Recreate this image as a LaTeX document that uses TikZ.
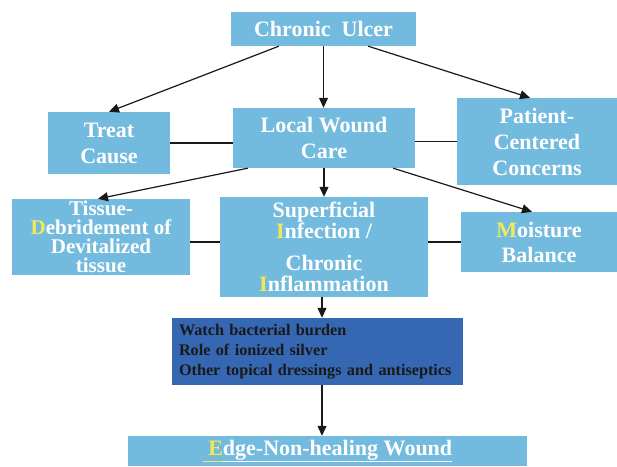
\documentclass[tikz,border=0pt]{standalone}
\usepackage{fontspec}
\setmainfont{Liberation Serif}[BoldFont={Liberation Serif Bold}]
\usepackage{tikz}
\usetikzlibrary{arrows.meta}

\definecolor{boxblue}{RGB}{115,187,222}
\definecolor{darkblue}{RGB}{53,103,178}
\definecolor{hiyellow}{RGB}{242,234,84}
\newcommand{\hlletter}[1]{\textcolor{hiyellow}{#1}}

\begin{document}
\begin{tikzpicture}[x=1pt, y=-1pt, >={Triangle[length=10pt, width=9pt]},
  box/.style={rectangle, fill=boxblue, text=white, align=center, inner sep=0pt,
    font=\bfseries\fontsize{22}{26}\selectfont},
  link/.style={->, line width=1.2pt, black!90},
  tie/.style={-, line width=1.2pt, black!90}]
  \useasboundingbox (0,0) rectangle (617,466);

  \node[box, minimum width=185, minimum height=34] (ulcer) at (323.5,29) {Chronic\hspace{0.5em}Ulcer};
  \node[box, minimum width=122, minimum height=62] (treat) at (109,143) {Treat\\Cause};
  \node[box, minimum width=182, minimum height=60] (wound) at (324,138) {Local Wound\\Care};
  \node[box, minimum width=160, minimum height=87] (patient) at (537,141.5) {Patient-\\Centered\\Concerns};
  \node[box, minimum width=178, minimum height=76, font=\bfseries\fontsize{21}{19}\selectfont] (tissue) at (101,237) {Tissue-\\\hlletter{D}ebridement of\\Devitalized\\tissue};
  \node[box, minimum width=208, minimum height=100, font=\bfseries\fontsize{22}{21}\selectfont] (infect) at (324,247) {Superficial\\\hlletter{I}nfection /\\[11pt]Chronic\\\hlletter{I}nflammation};
  \node[box, minimum width=156, minimum height=60, font=\bfseries\fontsize{22}{25}\selectfont] (moisture) at (539,242) {\hlletter{M}oisture\\Balance};
  \node[rectangle, fill=darkblue, minimum width=291, minimum height=67, inner sep=0pt, text width=283, align=left, text=black!90, font=\bfseries\fontsize{16.2}{20}\selectfont] (watch) at (317.5,351.5) {\hspace*{3pt}Watch bacterial burden\\\hspace*{3pt}Role of ionized silver\\\hspace*{3pt}Other topical dressings and antiseptics};
  \node[box, minimum width=399, minimum height=30] (edge) at (327.5,451) {{\color{hiyellow}\underline{\vphantom{g}\hspace{0.25em}E}}\underline{dge-Non-healing Wound}};

  \draw[link] ([xshift=48]ulcer.south west) -- (treat.north);
  \draw[link] (ulcer.south) -- (ulcer.south |- wound.north);
  \draw[link] ([xshift=-48]ulcer.south east) -- ([xshift=-7]patient.north);
  \draw[tie] (treat.east) -- (treat.east -| wound.west);
  \draw[tie] (patient.west -| wound.east) -- (patient.west);
  \draw[link] ([xshift=15]wound.south west) -- ([xshift=-3]tissue.north);
  \draw[link] (wound.south) -- (wound.south |- infect.north);
  \draw[link] ([xshift=-22]wound.south east) -- ([xshift=-7]moisture.north);
  \draw[tie] ([yshift=-5]tissue.east) -- ([yshift=-5]tissue.east -| infect.west);
  \draw[tie] (moisture.west -| infect.east) -- (moisture.west);
  \draw[link] ([xshift=-2]infect.south) -- ([xshift=-2]infect.south |- watch.north);
  \draw[link] ([xshift=-2]infect.south |- watch.south) -- ([xshift=-2]infect.south |- edge.north);
\end{tikzpicture}
\end{document}
